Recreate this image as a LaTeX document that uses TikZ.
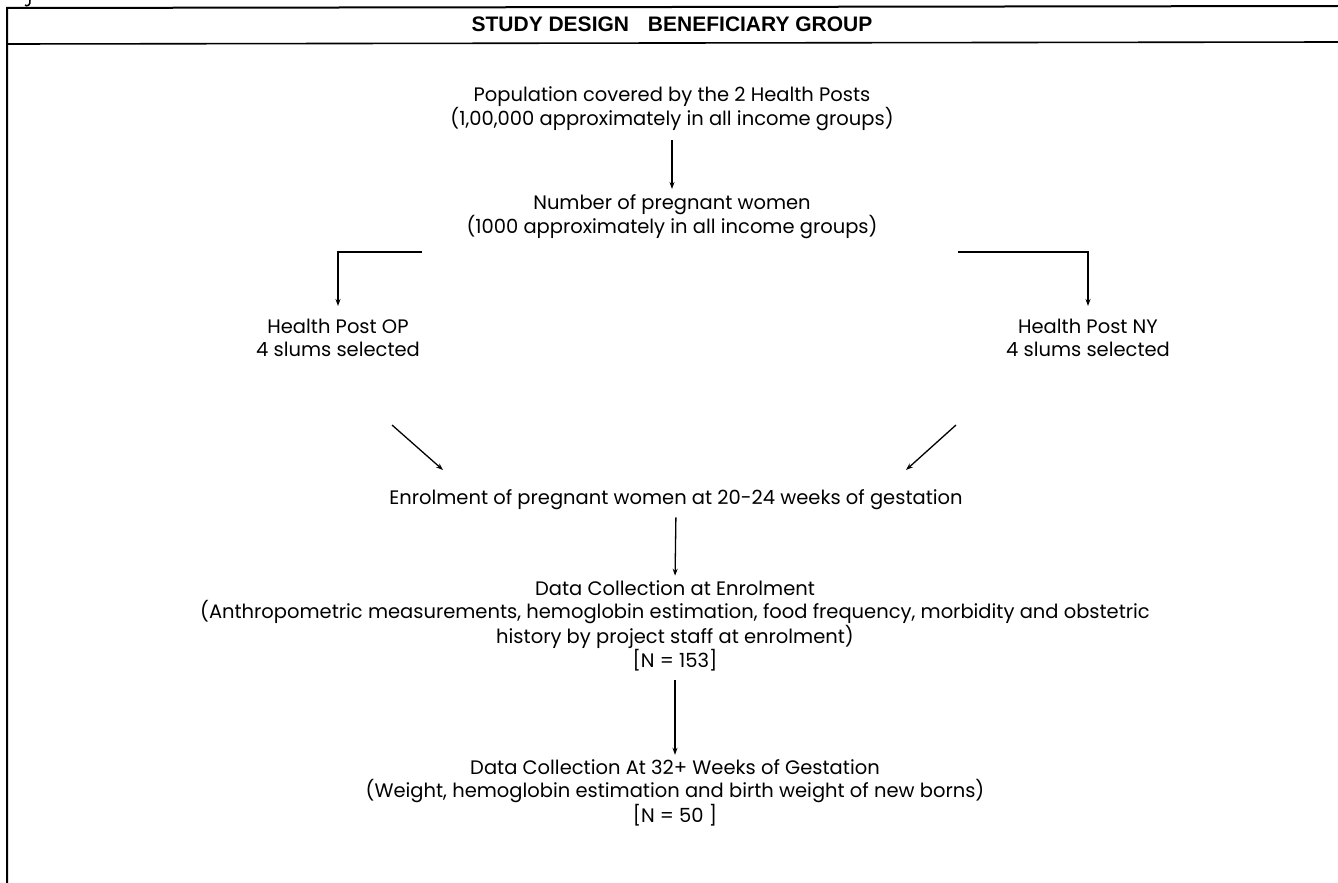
\documentclass[tikz,border=0pt]{standalone}
\usepackage{fontspec}
\setmainfont{Poppins}
\newfontfamily\hdfont{Liberation Sans}
\usetikzlibrary{arrows.meta,calc}
\begin{document}
\begin{tikzpicture}[x=1pt,y=-1pt,
  txt/.style={font=\fontsize{19.5}{23}\selectfont, align=center, inner sep=0pt},
  conn/.style={line width=1.3pt},
  arr/.style={conn,-{Stealth[length=7pt,width=5pt]}}]
\useasboundingbox (0,0) rectangle (1338,883);
% frame
\draw[line width=2pt] (7,883) -- (7,8) -- (1338,6);
\draw[line width=1.6pt] (7,44) -- (1338,42);
\draw[line width=1.5pt] (30,0) .. controls (31,5) and (27,7) .. (25,5);
\node[font=\hdfont\bfseries\fontsize{21}{24}\selectfont, inner sep=0pt] (hd) at (672,24) {STUDY DESIGN\hspace{0.9em}BENEFICIARY GROUP};
% nodes
\node[txt] (pop) at (672,108.5) {Population covered by the 2 Health Posts\\(1,00,000 approximately in all income groups)};
\node[txt] (num) at (672,216.5) {Number of pregnant women\\(1000 approximately in all income groups)};
\node[txt] (op) at (338,338) {Health Post OP\\4 slums selected};
\node[txt] (ny) at (1088,338) {Health Post NY\\4 slums selected};
\node[txt] (enr) at (676,500) {Enrolment of pregnant women at 20-24 weeks of gestation};
\node[txt] (dc1) at (675,626) {Data Collection at Enrolment\\(Anthropometric measurements, hemoglobin estimation, food frequency, morbidity and obstetric\\history by project staff at enrolment)\\{}[N = 153]};
\node[txt] (dc2) at (675,793) {Data Collection At 32+ Weeks of Gestation\\(Weight, hemoglobin estimation and birth weight of new borns)\\{}[N = 50 ]};
% connectors
\coordinate (bl) at (422,252);
\coordinate (br) at (958,252);
\coordinate (d1s) at (392,425);
\coordinate (d1e) at (443,470);
\coordinate (d2s) at (956,425);
\coordinate (d2e) at (906,470);
\draw[arr, shorten <=9pt, shorten >=5pt] (pop.south) -- (num.north);
\draw[arr, shorten >=13pt] (bl) -| (op.north);
\draw[arr, shorten >=13pt] (br) -| (ny.north);
\draw[arr] (d1s) -- (d1e);
\draw[arr] (d2s) -- (d2e);
\draw[arr, shorten <=7pt, shorten >=5pt] (enr.south) -- (dc1.north);
\draw[arr, shorten <=9pt, shorten >=5pt] (dc1.south) -- (dc2.north);
\end{tikzpicture}
\end{document}
